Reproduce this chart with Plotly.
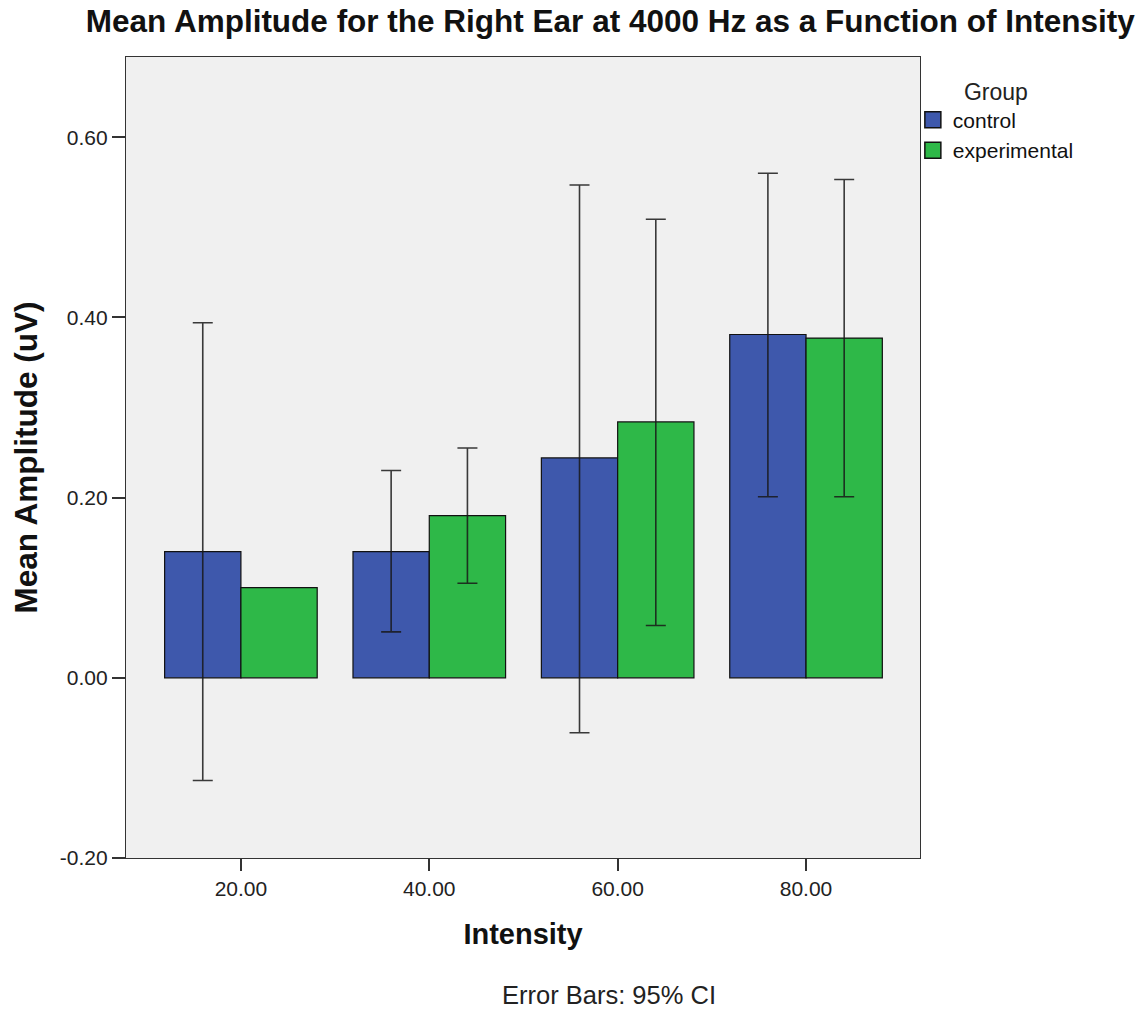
import numpy as np
import plotly.graph_objects as go

intensity = [20, 40, 60, 80]
tick_labels = ["20.00", "40.00", "60.00", "80.00"]

control_mean = [0.140, 0.140, 0.244, 0.381]
control_upper = [0.394, 0.230, 0.547, 0.560]
control_lower = [-0.114, 0.051, -0.061, 0.201]

exp_mean = [0.100, 0.180, 0.284, 0.377]
exp_upper = [np.nan, 0.255, 0.509, 0.553]
exp_lower = [np.nan, 0.105, 0.058, 0.201]

group_names = ["control", "experimental"]
group_colors = ["#3E58AC", "#2EB848"]

c_plus = np.array(control_upper) - np.array(control_mean)
c_minus = np.array(control_mean) - np.array(control_lower)
e_plus = np.array(exp_upper) - np.array(exp_mean)
e_minus = np.array(exp_mean) - np.array(exp_lower)

err_style = dict(type="data", symmetric=False, color="rgba(25,25,25,0.85)", thickness=1.6, width=10)

fig = go.Figure()
fig.add_trace(go.Bar(
    x=intensity, y=control_mean, name=group_names[0], showlegend=False,
    marker=dict(color=group_colors[0], line=dict(color="#111111", width=1.2)),
    error_y=dict(array=c_plus, arrayminus=c_minus, **err_style),
))
fig.add_trace(go.Bar(
    x=intensity, y=exp_mean, name=group_names[1], showlegend=False,
    marker=dict(color=group_colors[1], line=dict(color="#111111", width=1.2)),
    error_y=dict(array=e_plus, arrayminus=e_minus, **err_style),
))
# legend entries with larger square swatches
for name, color in zip(group_names, group_colors):
    fig.add_trace(go.Scatter(
        x=[None], y=[None], mode="markers", name=name, showlegend=True,
        marker=dict(symbol="square", size=16, color=color, line=dict(color="#111111", width=1.5)),
    ))

font_family = "Arial, Liberation Sans, sans-serif"

fig.update_layout(
    width=1145, height=1010,
    margin=dict(l=126, r=225, t=57, b=152),
    paper_bgcolor="white", plot_bgcolor="#F0F0F0",
    barmode="group", bargap=0.19, bargroupgap=0,
    font=dict(family=font_family, color="#222222"),
    title=dict(
        text="<b>Mean Amplitude for the Right Ear at 4000 Hz as a Function of Intensity</b>",
        x=0.533, xanchor="center", y=0.979, yanchor="middle",
        font=dict(size=31.5, color="#111111"),
    ),
    xaxis=dict(
        range=[7.8, 92.1], tickvals=intensity, ticktext=tick_labels,
        ticks="outside", ticklen=12, tickwidth=1.5, tickcolor="#333333",
        showline=True, mirror=True, linecolor="#333333", linewidth=1.3,
        showgrid=False, zeroline=False,
        tickfont=dict(size=21, color="#222222"),
        title=dict(text="<b>Intensity</b>", font=dict(size=29, color="#111111"), standoff=24),
    ),
    yaxis=dict(
        range=[-0.2, 0.689], tickvals=[-0.2, 0.0, 0.2, 0.4, 0.6],
        ticktext=["-0.20", "0.00", "0.20", "0.40", "0.60"],
        ticks="outside", ticklen=13, tickwidth=1.5, tickcolor="#333333",
        showline=True, mirror=True, linecolor="#333333", linewidth=1.3,
        showgrid=False, zeroline=False,
        tickfont=dict(size=21, color="#222222"),
        title=dict(text="<b>Mean Amplitude (uV)</b>", font=dict(size=31.5, color="#111111"), standoff=12),
    ),
    legend=dict(
        x=0.991, xanchor="left", y=0.984, yanchor="top",
        title=dict(text="Group", side="top center", font=dict(size=23, color="#222222")),
        font=dict(size=21, color="#111111"),
        bgcolor="rgba(0,0,0,0)", tracegroupgap=0, itemwidth=30,
    ),
    annotations=[dict(
        text="Error Bars: 95% CI", xref="paper", yref="paper",
        x=0.608, y=-0.1711, xanchor="center", yanchor="middle",
        showarrow=False, font=dict(size=25.5, color="#222222"),
    )],
)

fig.write_html("out.html")
